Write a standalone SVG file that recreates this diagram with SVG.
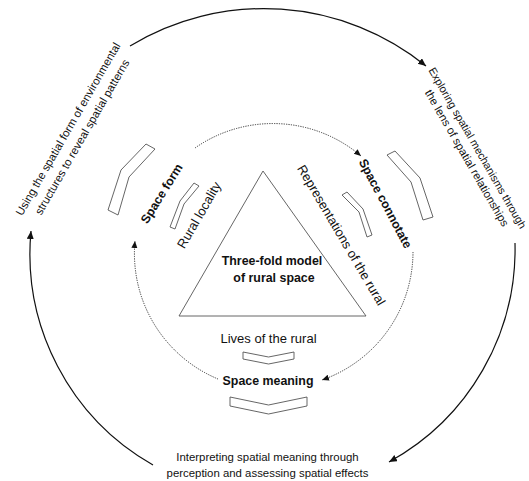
<svg xmlns="http://www.w3.org/2000/svg" width="529" height="481" viewBox="0 0 529 481">
<defs>
<style>
.t{font-family:"Liberation Sans",Arial,sans-serif;fill:#111;}
.outer{font-size:11.4px;}
.inner{font-size:13px;}
.b{font-size:12.4px;font-weight:bold;}
.arc{fill:none;stroke:#111;stroke-width:1.2;}
.dot{fill:none;stroke:#333;stroke-width:1;stroke-dasharray:1.2 1.2;}
.shape{fill:#fff;stroke:#555;stroke-width:0.9;}
</style>
<marker id="ah" markerUnits="userSpaceOnUse" markerWidth="10" markerHeight="8" refX="8" refY="3.5" orient="auto">
<path d="M0,0 L8,3.5 L0,7 z" fill="#111"/>
</marker>
<marker id="ahs" markerUnits="userSpaceOnUse" markerWidth="9" markerHeight="8" refX="7" refY="3" orient="auto">
<path d="M0,0 L7,3 L0,6 z" fill="#111"/>
</marker>
</defs>
<rect width="529" height="481" fill="#fff"/>

<g id="connectors">
<path class="arc" d="M130,46 A258 258 0 0 1 426,66" marker-end="url(#ah)"/>
<path class="arc" d="M515,243 A243 243 0 0 1 389,462" marker-end="url(#ah)"/>
<path class="arc" d="M153,465 A243 243 0 0 1 31,231" marker-end="url(#ah)"/>
<path class="dot" d="M195,148 A136 136 0 0 1 361,156" marker-end="url(#ahs)"/>
<path class="dot" d="M413,252 A136 136 0 0 1 322,380" marker-end="url(#ahs)"/>
<path class="dot" d="M218,379 A136 136 0 0 1 135,241" marker-end="url(#ahs)"/>
</g>

<g id="outer-left">
<text class="t outer" text-anchor="middle" dy="0.35em" transform="translate(68,129) rotate(-60)">Using the spatial form of environmental</text>
<text class="t outer" text-anchor="middle" dy="0.35em" transform="translate(82,137) rotate(-60)">structures to reveal spatial patterns</text>
</g>
<g id="outer-right">
<text class="t outer" style="font-size:10.9px" text-anchor="middle" dy="0.35em" transform="translate(477.5,148) rotate(60)">Exploring spatial mechanisms through</text>
<text class="t outer" text-anchor="middle" dy="0.35em" transform="translate(467,158) rotate(60)">the lens of spatial relationships</text>
</g>
<g id="outer-bottom">
<text class="t outer" text-anchor="middle" x="267.5" y="461">Interpreting spatial meaning through</text>
<text class="t outer" text-anchor="middle" x="267.5" y="477">perception and assessing spatial effects</text>
</g>

<g id="space-form">
<polygon class="shape" points="146,144 155,149 129,177 118,215 108,210 121,170"/>
<text class="t b" text-anchor="middle" dy="0.35em" transform="translate(161.5,193.5) rotate(-58)">Space form</text>
</g>
<g id="rural-locality">
<polygon class="shape" points="194,183 199,186 184,204 175,229 170,227 180,201"/>
<text class="t inner" text-anchor="middle" dy="0.35em" transform="translate(199,215) rotate(-60)">Rural locality</text>
</g>
<g id="space-connotate">
<polygon class="shape" points="387,155 395,151 420,178 433,217 423,220 411,182"/>
<text class="t b" text-anchor="middle" dy="0.35em" transform="translate(385.5,203.5) rotate(62)">Space connotate</text>
</g>
<g id="representations">
<polygon class="shape" points="342,195 347,192 363,209 372,235 367,237 359,212"/>
<text class="t inner" text-anchor="middle" dy="0.35em" transform="translate(341.5,235) rotate(59.5)">Representations of the rural</text>
</g>

<g id="model">
<polygon class="shape" fill="none" points="263,171 366,316 179,316"/>
<text class="t b" text-anchor="middle" x="272" y="264.5">Three-fold model</text>
<text class="t b" text-anchor="middle" x="274" y="281.5">of rural space</text>
</g>

<g id="lives">
<text class="t inner" text-anchor="middle" x="268.5" y="342.5">Lives of the rural</text>
<polygon class="shape" points="243,352 268.5,357 294,352 294,359 268.5,364 243,359"/>
</g>
<g id="space-meaning">
<text class="t b" text-anchor="middle" x="268" y="384.5">Space meaning</text>
<polygon class="shape" points="230,397 268.5,405 307,397 307,406 268.5,414 230,406"/>
</g>
</svg>
